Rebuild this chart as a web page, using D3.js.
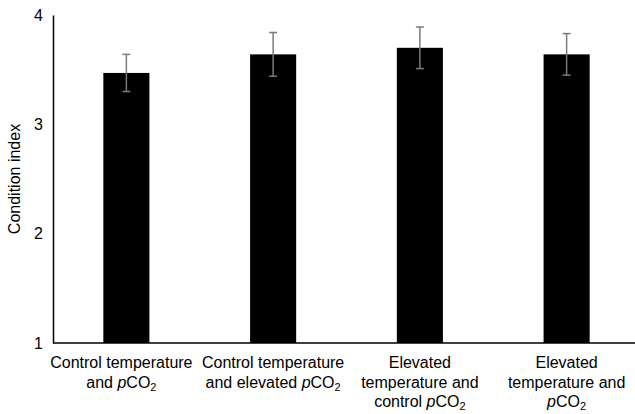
<!DOCTYPE html>
<html>
<head>
<meta charset="utf-8">
<script src="https://cdn.jsdelivr.net/npm/d3@7"></script>
<style>
  body { margin: 0; background: #fff; }
  text { font-family: "Liberation Sans", Arial, sans-serif; fill: #000; }
</style>
</head>
<body>
<svg id="chart" width="635" height="414"></svg>
<script>
// treatment labels, each line is a list of [text, style] pieces
var categories = [
  [[['Control temperature', '']], [['and ', ''], ['p', 'i'], ['CO', ''], ['2', 'sub']]],
  [[['Control temperature', '']], [['and elevated ', ''], ['p', 'i'], ['CO', ''], ['2', 'sub']]],
  [[['Elevated', '']], [['temperature and', '']], [['control ', ''], ['p', 'i'], ['CO', ''], ['2', 'sub']]],
  [[['Elevated', '']], [['temperature and', '']], [['p', 'i'], ['CO', ''], ['2', 'sub']]]
];
var means = [3.47, 3.64, 3.70, 3.64];
var errors = [0.17, 0.20, 0.19, 0.19];
var yTicks = [1, 2, 3, 4];

var svg = d3.select('#chart');
var plotL = 53, plotR = 640, plotT = 15, plotB = 343;
var fontSize = '16px';

var x = d3.scaleBand()
  .domain(d3.range(categories.length))
  .range([plotL, plotR])
  .padding(0);
var barW = x.bandwidth() * 0.314;
function cx(i) { return x(i) + x.bandwidth() / 2; }

var y = d3.scaleLinear().domain([1, 4]).range([plotB, plotT]);

// bars
svg.selectAll('rect.bar')
  .data(means)
  .enter().append('rect')
  .attr('class', 'bar')
  .attr('x', function(d, i) { return cx(i) - barW / 2; })
  .attr('width', barW)
  .attr('y', function(d) { return y(d); })
  .attr('height', function(d) { return y(1) - y(d); })
  .attr('fill', '#000');

// error bars
var eb = svg.selectAll('g.err')
  .data(means)
  .enter().append('g')
  .attr('class', 'err')
  .attr('stroke', '#7a7a7a')
  .attr('stroke-width', 1.5);
eb.append('line')
  .attr('x1', function(d, i) { return cx(i); })
  .attr('x2', function(d, i) { return cx(i); })
  .attr('y1', function(d, i) { return y(d + errors[i]); })
  .attr('y2', function(d, i) { return y(d - errors[i]); });
[1, -1].forEach(function(s) {
  eb.append('line')
    .attr('x1', function(d, i) { return cx(i) - 4; })
    .attr('x2', function(d, i) { return cx(i) + 4; })
    .attr('y1', function(d, i) { return y(d + s * errors[i]); })
    .attr('y2', function(d, i) { return y(d + s * errors[i]); });
});

// y axis
var yAxis = svg.append('g')
  .attr('transform', 'translate(' + plotL + ',0)')
  .call(d3.axisLeft(y).tickValues(yTicks).tickSize(0).tickPadding(10).tickFormat(d3.format('d')));
yAxis.select('.domain').attr('stroke', '#000').attr('stroke-width', 1.5);
yAxis.selectAll('text')
  .style('font-size', fontSize)
  .style('font-family', '"Liberation Sans", Arial, sans-serif')
  .attr('fill', '#000');

// x axis line
svg.append('line')
  .attr('x1', plotL).attr('x2', 635)
  .attr('y1', plotB).attr('y2', plotB)
  .attr('stroke', '#000').attr('stroke-width', 1.5);

// category labels (first one sits a little left, as Excel placed it)
categories.forEach(function(lines, i) {
  var t = svg.append('text')
    .attr('text-anchor', 'middle')
    .style('font-size', fontSize);
  lines.forEach(function(pieces, li) {
    var line = t.append('tspan')
      .attr('x', cx(i) - (i === 0 ? 5 : 0))
      .attr('y', 368 + li * 19.5);
    pieces.forEach(function(p) {
      var s = line.append('tspan').text(p[0]);
      if (p[1] === 'i') s.style('font-style', 'italic');
      if (p[1] === 'sub') s.attr('dy', 3).style('font-size', '11px');
    });
  });
});

// y label
svg.append('text')
  .attr('transform', 'translate(20,' + (plotT + plotB) / 2 + ') rotate(-90)')
  .attr('text-anchor', 'middle')
  .style('font-size', fontSize)
  .text('Condition index');
</script>
</body>
</html>
